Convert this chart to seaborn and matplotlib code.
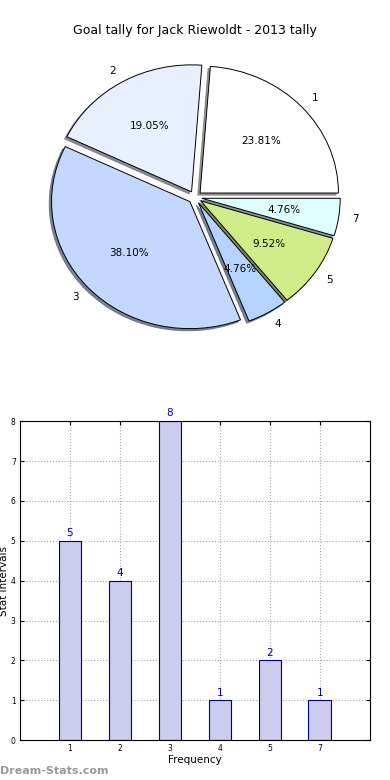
import pandas as pd
import matplotlib
matplotlib.use("Agg")
import matplotlib.pyplot as plt
import seaborn as sns

# data
categories = ["1", "2", "3", "4", "5", "7"]
goals = [5, 4, 8, 1, 2, 1]
pie_colors = ["#ffffff", "#e8f0ff", "#c4d8ff", "#b4d4ff", "#d0ec88", "#ddffff"]
y_ticks = [0, 1, 2, 3, 4, 5, 6, 7, 8]

sns.set_style("white")
plt.rcParams['font.family'] = ['DejaVu Sans']
plt.rcParams['text.color'] = 'black'
plt.rcParams['axes.labelcolor'] = 'black'
plt.rcParams['xtick.color'] = 'black'
plt.rcParams['ytick.color'] = 'black'

fig = plt.figure(figsize=(3.9, 7.8), dpi=100)

# PIE (the original is slightly stretched horizontally)
ax_pie = fig.add_axes([0.0565, 0.5435, 0.887, 0.407])
ax_pie.pie(
    goals,
    labels=categories,
    colors=pie_colors,
    explode=[0.05] * len(goals),
    autopct="%.2f%%",
    shadow={"ox": -0.012, "oy": -0.012, "shade": 0.5, "alpha": 0.85},
    startangle=0,
    labeldistance=1.1,
    pctdistance=0.6,
    wedgeprops=dict(edgecolor="black", linewidth=0.7),
    textprops=dict(fontsize=7.5),
)
ax_pie.set_aspect("auto")
ax_pie.set_xlim(-1.25, 1.25)
ax_pie.set_ylim(-1.25, 1.25)
fig.text(0.5, 0.961, "Goal tally for Jack Riewoldt - 2013 tally",
         ha="center", va="center", fontsize=9)

# BAR
df = pd.DataFrame({"cat": categories, "goals": goals})
ax_bar = fig.add_axes([0.051, 0.051, 0.897, 0.409])
sns.barplot(data=df, x="cat", y="goals", order=categories, width=0.45,
            color="#ccccee", saturation=1, edgecolor="#000080", linewidth=0.8,
            ax=ax_bar, zorder=2)
ax_bar.set_xlim(-1, 6)
ax_bar.set_ylim(0, 8)
ax_bar.set_yticks(y_ticks)
ax_bar.grid(True, linestyle=":", color="#aaaaaa", linewidth=0.8, zorder=0)
ax_bar.set_axisbelow(True)
ax_bar.tick_params(axis="both", direction="in", labelsize=5.5, length=3,
                   top=True, right=True, bottom=True, left=True, pad=3)
for s in ax_bar.spines.values():
    s.set_color("black")
    s.set_linewidth(0.8)
ax_bar.set_xlabel("Frequency", fontsize=7.5, labelpad=1)
ax_bar.set_ylabel("Stat Intervals", fontsize=7.5, labelpad=1)
for container in ax_bar.containers:
    ax_bar.bar_label(container, fmt="%d", padding=2, fontsize=7.5, color="#000099")

fig.text(0.0, 0.005, "Dream-Stats.com", fontsize=8, color="#999999",
         fontweight="bold", ha="left", va="bottom")

fig.savefig("out.png", dpi=100)
